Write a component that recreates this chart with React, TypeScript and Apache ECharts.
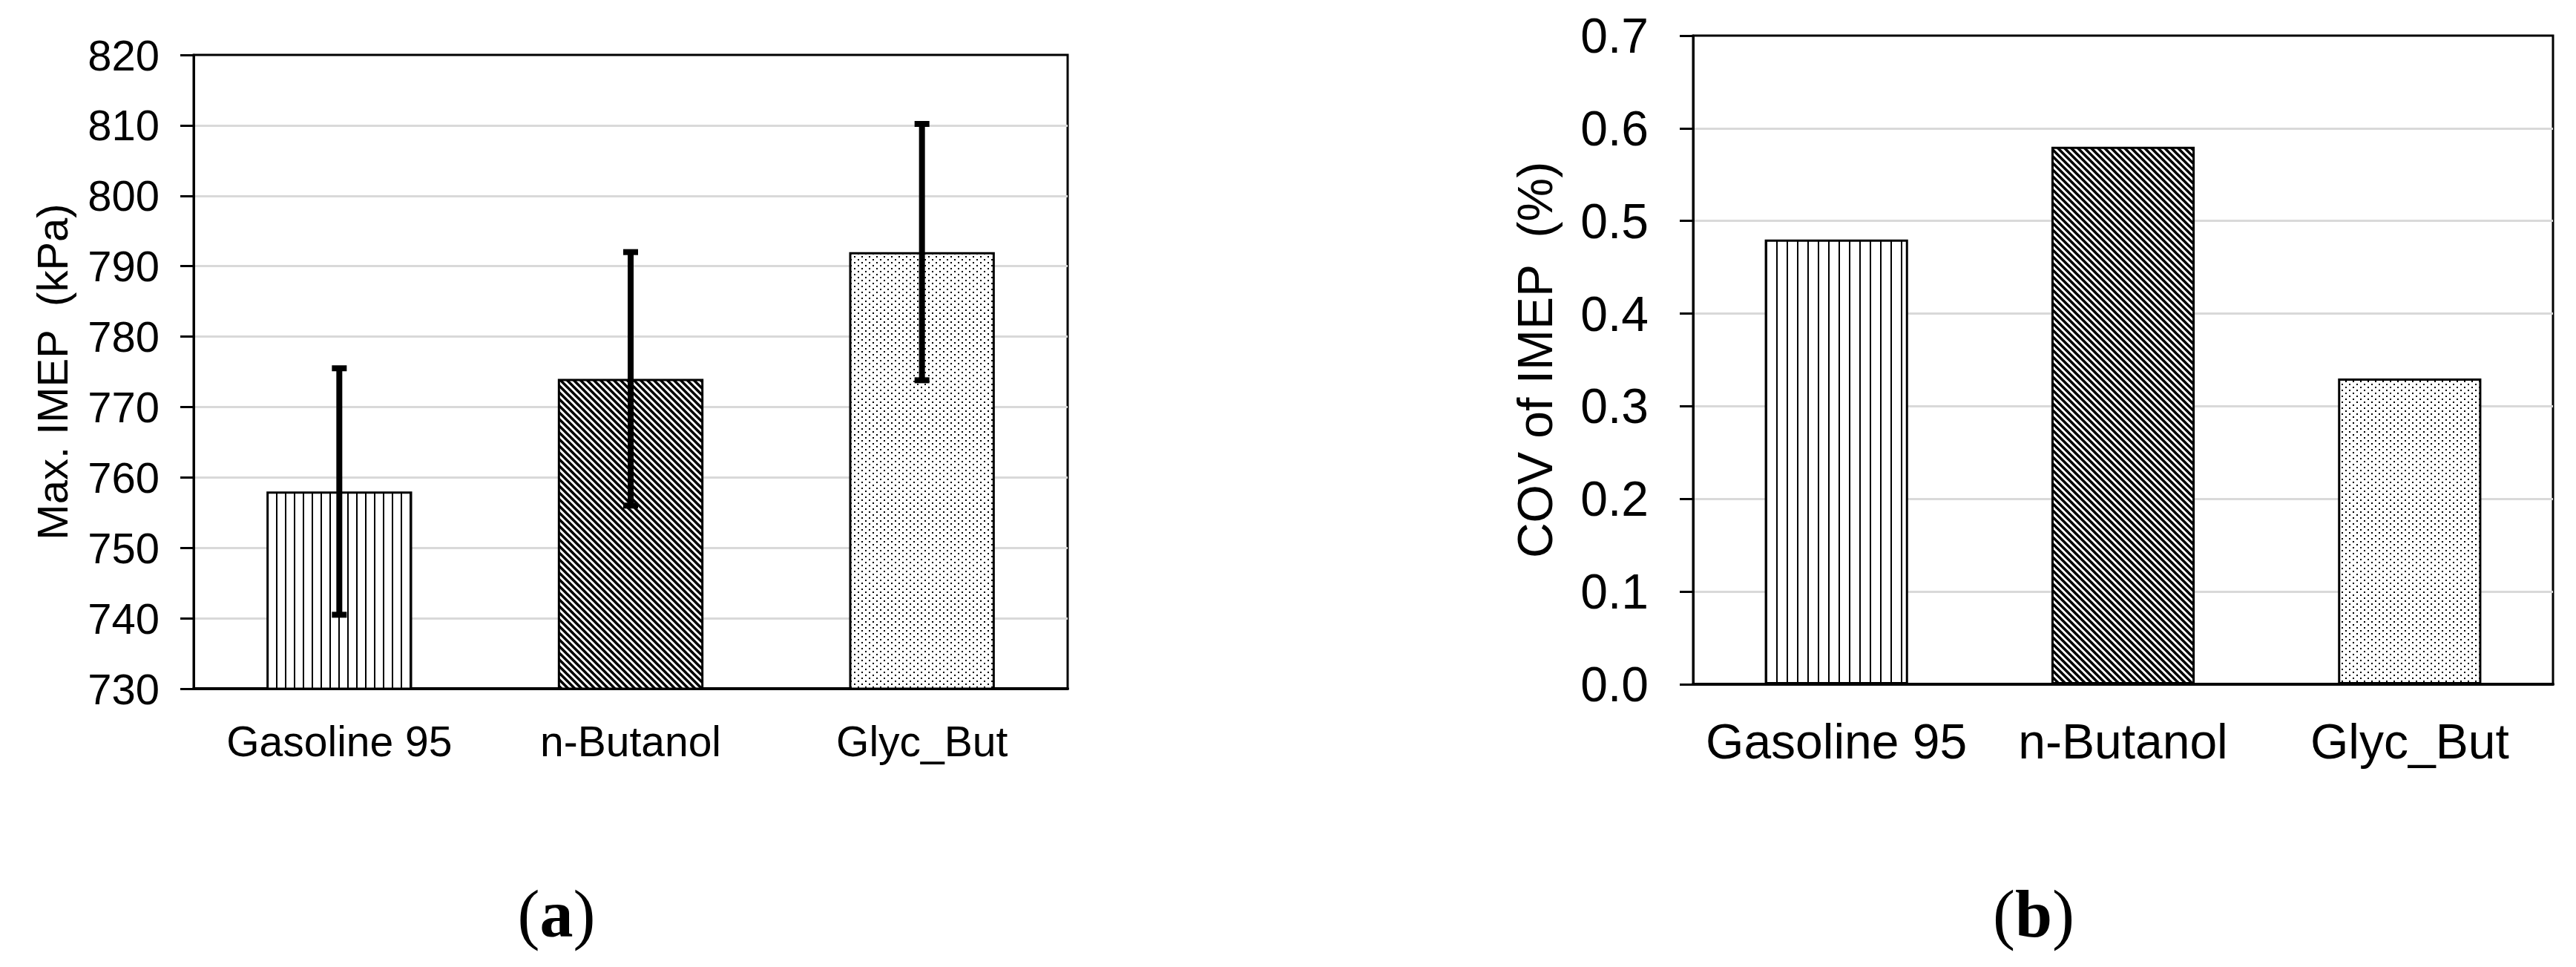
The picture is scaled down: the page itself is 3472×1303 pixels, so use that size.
import * as echarts from 'echarts';
import { useEffect, useRef } from 'react';

// 数据
const fuels = ['Gasoline 95', 'n-Butanol', 'Glyc_But'];
const maxImep = [758, 774, 792];
const maxImepErr = [17.5, 18, 18.2];
const covImep = [0.48, 0.58, 0.33];
const imepTicks = [730, 740, 750, 760, 770, 780, 790, 800, 810, 820];
const covTicks = [0, 0.1, 0.2, 0.3, 0.4, 0.5, 0.6, 0.7];

const sans = "'Liberation Sans', Arial, sans-serif";
const serif = "'Liberation Serif', 'Times New Roman', serif";

// 图案填充
function makeTile(w: number, h: number, draw: (ctx: CanvasRenderingContext2D) => void) {
  const c = document.createElement('canvas');
  c.width = w;
  c.height = h;
  const ctx = c.getContext('2d')!;
  ctx.fillStyle = '#fff';
  ctx.fillRect(0, 0, w, h);
  ctx.fillStyle = '#000';
  ctx.strokeStyle = '#000';
  draw(ctx);
  return { image: c, repeat: 'repeat', imageWidth: w, imageHeight: h } as any;
}

const vertical = (w: number) => makeTile(w, 10, ctx => ctx.fillRect(0, 0, 2, 10));

const diagonal = () =>
  makeTile(9, 9, ctx => {
    ctx.lineWidth = 3.5;
    for (const k of [-9, 0, 9]) {
      ctx.beginPath();
      ctx.moveTo(-1, k - 1);
      ctx.lineTo(10, k + 10);
      ctx.stroke();
    }
  });

const dots = () =>
  makeTile(10, 8, ctx => {
    ctx.fillRect(1, 1, 2, 2);
    ctx.fillRect(6, 5, 2, 2);
  });

function buildOptions(): echarts.EChartsOption {
  const patternsA = [vertical(12), diagonal(), dots()];
  const patternsB = [vertical(14), diagonal(), dots()];

  const errData = maxImep.map((v, i) => [i, v - maxImepErr[i], v + maxImepErr[i]]);

  const grid = (left: number, top: number, width: number, height: number) => ({
    left,
    top,
    width,
    height,
    show: true,
    borderColor: '#000',
    borderWidth: 3,
    backgroundColor: '#fff',
  });

  const xAxis = (gridIndex: number, fontSize: number, margin: number) => ({
    type: 'category' as const,
    gridIndex,
    data: fuels,
    axisLine: { lineStyle: { color: '#000', width: 4 } },
    axisTick: { show: false },
    axisLabel: { color: '#000', fontFamily: sans, fontSize, margin, interval: 0 },
  });

  const yAxis = (
    gridIndex: number,
    ticks: number[],
    name: string,
    fontSize: number,
    margin: number,
    nameGap: number,
    digits: number,
  ) => ({
    type: 'value' as const,
    gridIndex,
    min: ticks[0],
    max: ticks[ticks.length - 1],
    interval: ticks[1] - ticks[0],
    name,
    nameLocation: 'middle' as const,
    nameGap,
    nameTextStyle: { color: '#000', fontFamily: sans, fontSize },
    axisLine: { show: true, lineStyle: { color: '#000', width: 3 } },
    axisTick: { show: true, length: 18, lineStyle: { color: '#000', width: 3 } },
    axisLabel: {
      color: '#000',
      fontFamily: sans,
      fontSize,
      margin,
      formatter: (v: number) => v.toFixed(digits),
    },
    splitLine: {
      show: true,
      showMinLine: false,
      showMaxLine: false,
      lineStyle: { color: '#d9d9d9', width: 3 },
    },
  });

  const tag = (letter: string, x: number, y: number) => ({
    type: 'text' as const,
    x,
    y,
    style: {
      text: `{p|(}{b|${letter}}{p|)}`,
      align: 'center',
      verticalAlign: 'middle',
      rich: {
        p: { fontFamily: serif, fontSize: 90, fill: '#000' },
        b: { fontFamily: serif, fontSize: 90, fontWeight: 'bold', fill: '#000' },
      },
    } as any,
  });

  return {
    animation: false,
    backgroundColor: '#fff',
    grid: [grid(261, 74, 1178, 854), grid(2282, 48, 1159, 874)],
    xAxis: [xAxis(0, 57, 42), xAxis(1, 66, 44)],
    yAxis: [
      yAxis(0, imepTicks, 'Max. IMEP  (kPa)', 58, 46, 162, 0),
      yAxis(1, covTicks, 'COV of IMEP  (%)', 66, 60, 180, 1),
    ],
    series: [
      {
        type: 'bar',
        xAxisIndex: 0,
        yAxisIndex: 0,
        barWidth: '50%',
        data: maxImep.map((v, i) => ({
          value: v,
          itemStyle: { color: patternsA[i], borderColor: '#000', borderWidth: 3 },
        })),
      },
      {
        type: 'custom',
        xAxisIndex: 0,
        yAxisIndex: 0,
        data: errData,
        z: 10,
        renderItem: (_params: any, api: any) => {
          const lo = api.coord([api.value(0), api.value(1)]);
          const hi = api.coord([api.value(0), api.value(2)]);
          const style = { stroke: '#000', lineWidth: 8 };
          return {
            type: 'group',
            children: [
              { type: 'line', shape: { x1: lo[0], y1: lo[1], x2: hi[0], y2: hi[1] }, style },
              { type: 'line', shape: { x1: hi[0] - 10, y1: hi[1], x2: hi[0] + 10, y2: hi[1] }, style },
              { type: 'line', shape: { x1: lo[0] - 10, y1: lo[1], x2: lo[0] + 10, y2: lo[1] }, style },
            ],
          };
        },
      },
      {
        type: 'bar',
        xAxisIndex: 1,
        yAxisIndex: 1,
        barWidth: '50%',
        data: covImep.map((v, i) => ({
          value: v,
          itemStyle: { color: patternsB[i], borderColor: '#000', borderWidth: 3 },
        })),
      },
    ],
    graphic: [tag('a', 750, 1231), tag('b', 2741, 1231)],
  } as echarts.EChartsOption;
}

export default function App() {
  const chartRef = useRef<HTMLDivElement>(null);

  useEffect(() => {
    if (!chartRef.current) return;
    const chart = echarts.init(chartRef.current, undefined, { renderer: 'svg' });
    chart.setOption(buildOptions());
    return () => {
      chart.dispose();
    };
  }, []);

  return (
    <div
      ref={chartRef}
      style={{ position: 'fixed', left: 0, top: 0, width: 3472, height: 1303, background: '#fff' }}
    />
  );
}
